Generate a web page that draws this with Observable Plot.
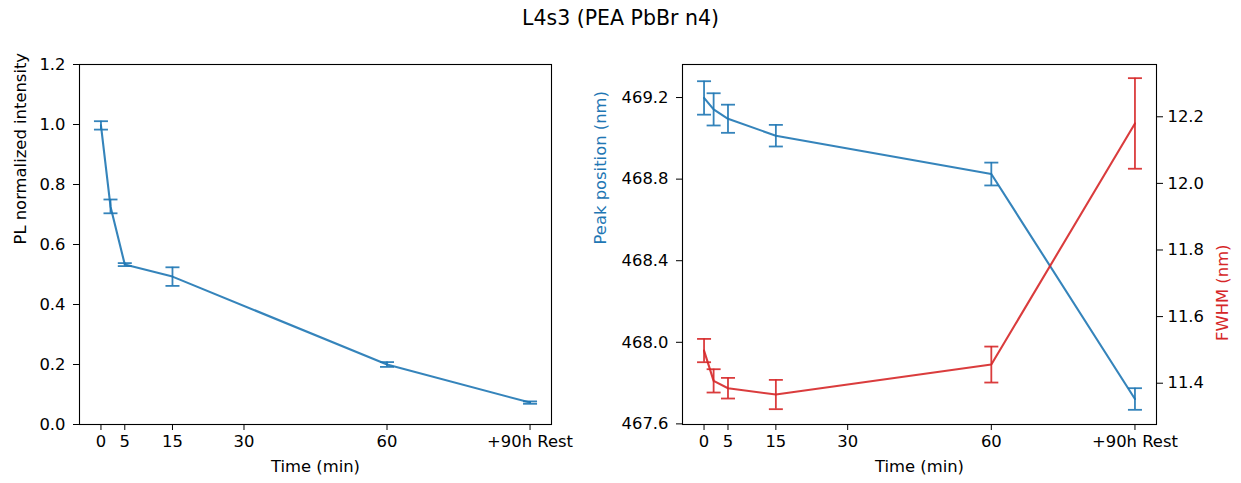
<!DOCTYPE html>
<html>
<head>
<meta charset="utf-8">
<script src="https://cdn.jsdelivr.net/npm/d3@7"></script>
<script src="https://cdn.jsdelivr.net/npm/@observablehq/plot@0.6"></script>
<style>
  html, body { margin: 0; padding: 0; background: white; }
  #wrap { position: relative; width: 1241px; height: 483px; overflow: hidden; font-family: "DejaVu Sans", sans-serif; }
  #title { position: absolute; left: 0; width: 1241px; top: 8px; text-align: center; font-size: 20.5px; line-height: 1; color: #000; }
  .panel { position: absolute; top: 0; }
</style>
</head>
<body>
<div id="wrap">
  <div id="title">L4s3 (PEA PbBr n4)</div>
  <div id="left" class="panel" style="left:0px"></div>
  <div id="rightA" class="panel" style="left:600px"></div>
  <div id="rightB" class="panel" style="left:600px"></div>
</div>
<script>
// ---- data ----
const times = [0, 2, 5, 15, 60, 90];
const plIntensity = [0.997, 0.727, 0.533, 0.493, 0.200, 0.073];
const plErr = [0.014, 0.023, 0.005, 0.031, 0.008, 0.004];
const peakPosition = [469.198, 469.142, 469.096, 469.013, 468.825, 467.722];
const peakErr = [0.082, 0.079, 0.069, 0.053, 0.056, 0.053];
const fwhm = [11.498, 11.407, 11.385, 11.366, 11.456, 12.180];
const fwhmErr = [0.035, 0.035, 0.031, 0.044, 0.054, 0.136];
const xTickValues = [0, 5, 15, 30, 60, 90];
const xTickLabels = ["0", "5", "15", "30", "60", "+90h Rest"];
const plTicks = [0, 0.2, 0.4, 0.6, 0.8, 1.0, 1.2];
const peakTicks = [467.6, 468.0, 468.4, 468.8, 469.2];
const fwhmTicks = [11.4, 11.6, 11.8, 12.0, 12.2];

// ---- styling ----
const BLUE = "#1f77b4", RED = "#d62728";
const FONT = "16.4px";
const W = 600, H = 483;
const rows = times.map((t, i) => ({
  t, pl: plIntensity[i], plE: plErr[i],
  pk: peakPosition[i], pkE: peakErr[i],
  fw: fwhm[i], fwE: fwhmErr[i]
}));
const cap = { draw(ctx) { ctx.moveTo(-7, 0); ctx.lineTo(7, 0); } };
const xFmt = d => xTickLabels[xTickValues.indexOf(d)];
const svgStyle = { background: "transparent", fontSize: FONT, fontFamily: "DejaVu Sans", color: "black", overflow: "visible" };

function errMarks(yKey, eKey, color) {
  return [
    Plot.ruleX(rows, { x: "t", y1: d => d[yKey] - d[eKey], y2: d => d[yKey] + d[eKey], stroke: color, strokeWidth: 1.8, strokeOpacity: 0.9 }),
    Plot.dot(rows, { x: "t", y: d => d[yKey] + d[eKey], symbol: cap, r: 5, fill: "none", stroke: color, strokeWidth: 1.8, strokeOpacity: 0.9 }),
    Plot.dot(rows, { x: "t", y: d => d[yKey] - d[eKey], symbol: cap, r: 5, fill: "none", stroke: color, strokeWidth: 1.8, strokeOpacity: 0.9 }),
    Plot.line(rows, { x: "t", y: yKey, stroke: color, strokeWidth: 2.1, strokeOpacity: 0.9 })
  ];
}

const xScale = { domain: [-4.5, 94.5], ticks: xTickValues, tickFormat: xFmt, tickSize: 6, tickPadding: 5, label: null, line: false };

// ---- left panel ----
const left = Plot.plot({
  width: W, height: H,
  marginLeft: 79, marginRight: 49, marginTop: 64, marginBottom: 59,
  style: svgStyle,
  x: xScale,
  y: { domain: [0, 1.2], ticks: plTicks, tickFormat: d3.format(".1f"), tickSize: 6, tickPadding: 8, label: null, line: false },
  marks: [
    ...errMarks("pl", "plE", BLUE),
    Plot.frame({ stroke: "black", strokeWidth: 1.1 }),
    Plot.text(["PL normalized intensity"], { frameAnchor: "left", dx: -59, rotate: -90, fontSize: FONT, fill: "black" }),
    Plot.text(["Time (min)"], { frameAnchor: "bottom", dy: 47, fontSize: FONT, fill: "black" })
  ]
});
document.getElementById("left").appendChild(left);

// ---- right panel: peak position (left axis) ----
const rightA = Plot.plot({
  width: 641, height: H,
  marginLeft: 82, marginRight: 85, marginTop: 64, marginBottom: 59,
  style: svgStyle,
  x: xScale,
  y: { domain: [467.597, 469.362], ticks: peakTicks, tickFormat: d3.format(".1f"), tickSize: 6, tickPadding: 8, label: null, line: false },
  marks: [
    ...errMarks("pk", "pkE", BLUE),
    Plot.frame({ stroke: "black", strokeWidth: 1.1 }),
    Plot.text(["Peak position (nm)"], { frameAnchor: "left", dx: -82, rotate: -90, fontSize: FONT, fill: BLUE }),
    Plot.text(["Time (min)"], { frameAnchor: "bottom", dy: 47, fontSize: FONT, fill: "black" })
  ]
});
document.getElementById("rightA").appendChild(rightA);

// ---- right panel: FWHM (right axis) ----
const rightB = Plot.plot({
  width: 641, height: H,
  marginLeft: 82, marginRight: 85, marginTop: 64, marginBottom: 59,
  style: svgStyle,
  x: { domain: [-4.5, 94.5], axis: null },
  y: { domain: [11.276, 12.357], axis: "right", ticks: fwhmTicks, tickFormat: d3.format(".1f"), tickSize: 6, tickPadding: 5, label: null, line: false },
  marks: [
    ...errMarks("fw", "fwE", RED),
    Plot.text(["FWHM (nm)"], { frameAnchor: "right", dx: 66, rotate: -90, fontSize: FONT, fill: RED })
  ]
});
document.getElementById("rightB").appendChild(rightB);
</script>
</body>
</html>
